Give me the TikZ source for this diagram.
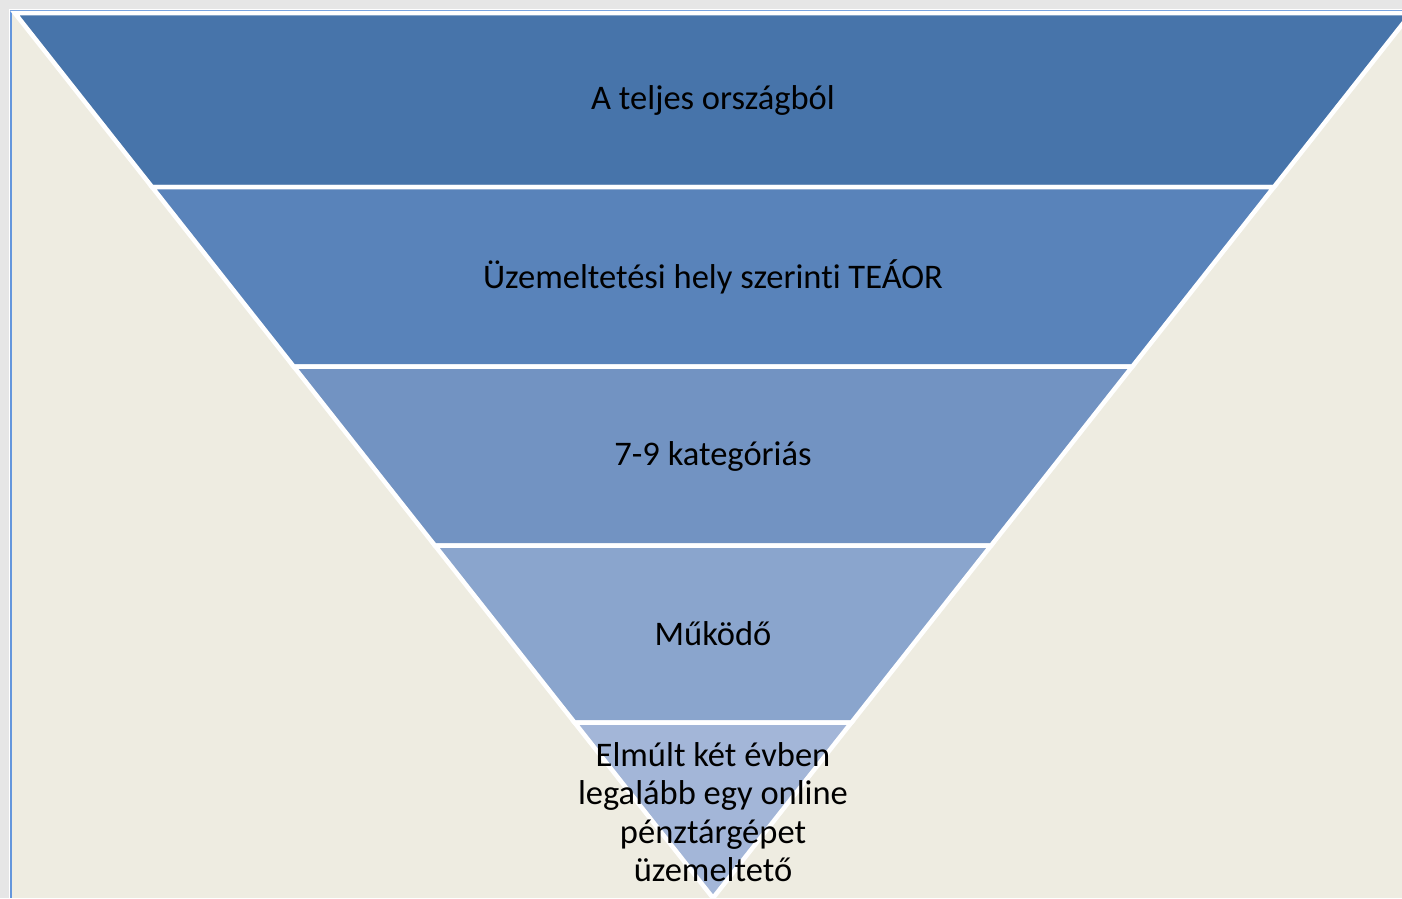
\documentclass[tikz,border=0pt]{standalone}
\usepackage{fontspec}
\setmainfont[RawFeature={-liga;-dlig;-clig}]{Carlito}
\definecolor{bgout}{RGB}{230,230,230}
\definecolor{frameblue}{RGB}{100,150,220}
\definecolor{beige}{RGB}{238,236,225}
\definecolor{bandA}{RGB}{71,116,170}
\definecolor{bandB}{RGB}{89,131,186}
\definecolor{bandC}{RGB}{114,147,194}
\definecolor{bandD}{RGB}{138,165,205}
\definecolor{bandE}{RGB}{163,182,216}
\tikzset{
  band/.style={draw=white, line width=4.5pt, line join=miter},
  lbl/.style={font=\fontsize{34.5}{38.5}\selectfont, text=black, align=center, inner sep=0pt}
}
\begin{document}
\begin{tikzpicture}[x=1pt,y=-1pt]
\useasboundingbox (0,0) rectangle (1402,898);
\clip (0,0) rectangle (1402,898);
\fill[bgout] (0,0) rectangle (1402,898);
\fill[white] (8.5,8.5) rectangle (1402,898);
\fill[frameblue] (9.5,10) rectangle (1402,898);
\fill[beige] (11.5,12.5) rectangle (1402,898);
% funnel: apex (713,898), half-width slope 0.789 per px
\def\k{0.789}
\foreach \ya/\yb/\c/\n in {13/187/bandA/b1, 187/366.5/bandB/b2, 366.5/545.5/bandC/b3, 545.5/722.5/bandD/b4, 722.5/898/bandE/b5}{
  \pgfmathsetmacro{\wa}{\k*(898-\ya)}
  \pgfmathsetmacro{\wb}{\k*(898-\yb)}
  \filldraw[band, fill=\c] ({713-\wa},\ya) -- ({713+\wa},\ya) -- ({713+\wb},\yb) -- ({713-\wb},\yb) -- cycle;
}
\node[lbl] (t1) at (713,100) {A teljes országból};
\node[lbl] (t2) at (713,277) {Üzemeltetési hely szerinti TEÁOR};
\node[lbl] (t3) at (713,456) {7-9 kategóriás};
\node[lbl] (t4) at (713,634) {Működő};
\node[lbl] (t5) at (713,812) {Elmúlt két évben\\legalább egy online\\pénztárgépet\\üzemeltető};
\end{tikzpicture}
\end{document}
